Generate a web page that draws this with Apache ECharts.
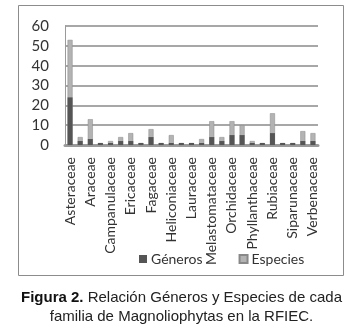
<!DOCTYPE html>
<html>
<head>
<meta charset="utf-8">
<script src="https://cdn.jsdelivr.net/npm/echarts@6/dist/echarts.min.js"></script>
<style>
  html, body { margin: 0; padding: 0; background: #fff; }
  #chart { width: 363px; height: 329px; }
</style>
</head>
<body>
<div id="chart"></div>
<script>
// familias (solo se ven una sí y una no, como en el original)
var familias = [
  "Asteraceae", "Acanthaceae", "Araceae", "Araliaceae", "Campanulaceae",
  "Clusiaceae", "Ericaceae", "Euphorbiaceae", "Fagaceae", "Gesneriaceae",
  "Heliconiaceae", "Hypericaceae", "Lauraceae", "Malvaceae", "Melastomataceae",
  "Myrtaceae", "Orchidaceae", "Passifloraceae", "Phyllanthaceae", "Piperaceae",
  "Rubiaceae", "Sapindaceae", "Siparunaceae", "Solanaceae", "Verbenaceae"
];
var generos = [24, 2, 3, 1, 1, 2, 2, 1, 4, 1, 1, 1, 1, 1, 4, 2, 5, 5, 1, 1, 6, 1, 1, 2, 2];
var especies = [53, 4, 13, 1, 2, 4, 6, 1, 8, 1, 5, 1, 1, 3, 12, 4, 12, 10, 2, 1, 16, 1, 1, 7, 6];
var yTicks = [0, 10, 20, 30, 40, 50, 60];

var chart = echarts.init(document.getElementById("chart"));

var option = {
  animation: false,
  textStyle: { fontFamily: "Lato" },
  graphic: [
    {
      type: "rect",
      shape: { x: 18.5, y: 5.5, width: 325, height: 270 },
      style: { fill: "none", stroke: "#8c8c8c", lineWidth: 1 }
    },
    {
      type: "text",
      left: "center",
      top: 290,
      style: {
        text: "{b|Figura 2.} Relación Géneros y Especies de cada",
        font: "15px 'Liberation Sans'",
        fill: "#222",
        rich: {
          b: { font: "bold 15px 'Liberation Sans'", fill: "#111" }
        }
      }
    },
    {
      type: "text",
      left: "center",
      top: 309,
      style: {
        text: "familia de Magnoliophytas en la RFIEC.",
        font: "15px 'Liberation Sans'",
        fill: "#222"
      }
    }
  ],
  legend: {
    left: 134,
    top: 247,
    icon: "rect",
    itemWidth: 8,
    itemHeight: 8,
    itemGap: 36,
    textStyle: { fontFamily: "Lato", fontSize: 14, color: "#333", padding: [0, 0, 0, -1] },
    data: ["Géneros", "Especies"]
  },
  grid: { left: 65, right: 45, top: 26, bottom: 184 },
  xAxis: {
    type: "category",
    data: familias,
    axisLine: { lineStyle: { color: "#9a9a9a", width: 3 } },
    axisTick: { show: false },
    axisLabel: {
      interval: 1,
      rotate: 90,
      margin: 12,
      fontFamily: "Lato",
      fontSize: 14,
      color: "#333"
    }
  },
  yAxis: {
    type: "value",
    min: yTicks[0],
    max: yTicks[yTicks.length - 1],
    interval: 10,
    axisLine: { show: true, lineStyle: { color: "#9a9a9a", width: 1 } },
    axisTick: { show: false },
    axisLabel: { margin: 16, fontFamily: "Lato", fontSize: 15, color: "#333" },
    splitLine: { lineStyle: { color: "#8a8a8a", width: 1.5 } }
  },
  series: [
    {
      name: "Especies",
      type: "bar",
      barWidth: 5,
      z: 2,
      itemStyle: { color: "#b3b3b3", borderColor: "#888888", borderWidth: 0.5 },
      data: especies
    },
    {
      name: "Géneros",
      type: "bar",
      barWidth: 5,
      barGap: "-100%",
      z: 3,
      itemStyle: { color: "#555555" },
      data: generos
    }
  ]
};

// la leyenda toma el color de cada serie
option.series[0].color = "#b3b3b3";
option.series[1].color = "#555555";

chart.setOption(option);
</script>
</body>
</html>
